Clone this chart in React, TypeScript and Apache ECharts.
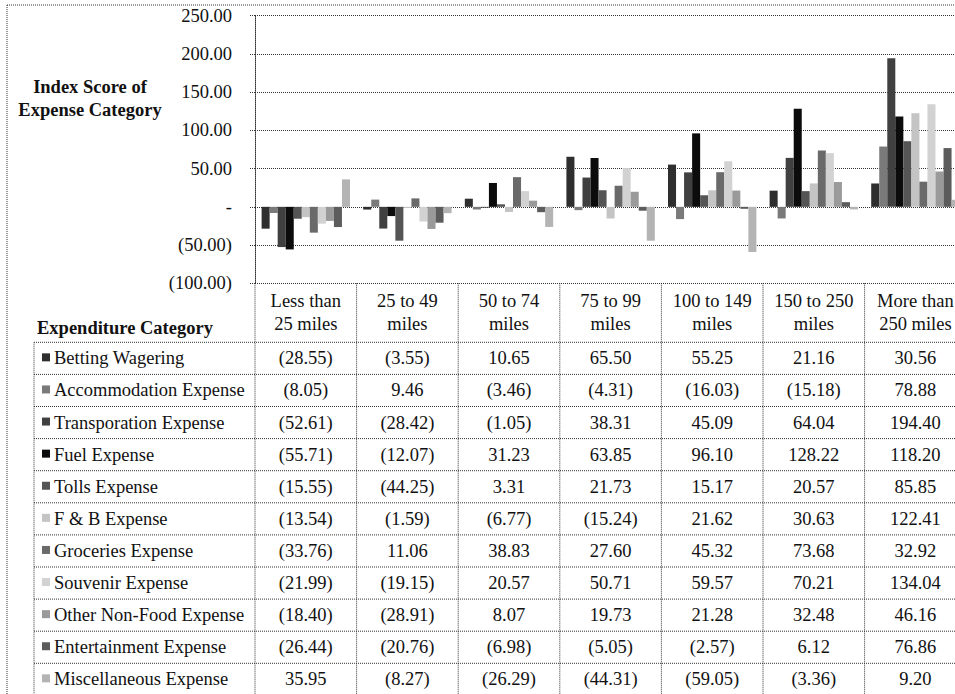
import React, { useEffect, useRef } from "react";
import * as echarts from "echarts";

// ---------- data ----------
const categories = [
  "Less than\n25 miles",
  "25 to 49\nmiles",
  "50 to 74\nmiles",
  "75 to 99\nmiles",
  "100 to 149\nmiles",
  "150 to 250\nmiles",
  "More than\n250 miles",
];

const seriesNames = [
  "Betting Wagering",
  "Accommodation Expense",
  "Transporation Expense",
  "Fuel Expense",
  "Tolls Expense",
  "F & B Expense",
  "Groceries Expense",
  "Souvenir Expense",
  "Other Non-Food Expense",
  "Entertainment Expense",
  "Miscellaneous Expense",
];

const bettingWagering = [-28.55, -3.55, 10.65, 65.5, 55.25, 21.16, 30.56];
const accommodation = [-8.05, 9.46, -3.46, -4.31, -16.03, -15.18, 78.88];
const transporation = [-52.61, -28.42, -1.05, 38.31, 45.09, 64.04, 194.4];
const fuel = [-55.71, -12.07, 31.23, 63.85, 96.1, 128.22, 118.2];
const tolls = [-15.55, -44.25, 3.31, 21.73, 15.17, 20.57, 85.85];
const fAndB = [-13.54, -1.59, -6.77, -15.24, 21.62, 30.63, 122.41];
const groceries = [-33.76, 11.06, 38.83, 27.6, 45.32, 73.68, 32.92];
const souvenir = [-21.99, -19.15, 20.57, 50.71, 59.57, 70.21, 134.04];
const otherNonFood = [-18.4, -28.91, 8.07, 19.73, 21.28, 32.48, 46.16];
const entertainment = [-26.44, -20.76, -6.98, -5.05, -2.57, 6.12, 76.86];
const miscellaneous = [35.95, -8.27, -26.29, -44.31, -59.05, -3.36, 9.2];

const seriesValues = [
  bettingWagering,
  accommodation,
  transporation,
  fuel,
  tolls,
  fAndB,
  groceries,
  souvenir,
  otherNonFood,
  entertainment,
  miscellaneous,
];

const yTicks = { min: -100, max: 250, interval: 50 };

// ---------- styling ----------
const seriesColors = [
  "#2e2e2e",
  "#7a7a7a",
  "#404040",
  "#0c0c0c",
  "#555555",
  "#c4c4c4",
  "#6a6a6a",
  "#d2d2d2",
  "#9a9a9a",
  "#5c5c5c",
  "#b4b4b4",
];

const FONT = "'Liberation Serif', 'Times New Roman', serif";
const FS = 18.5;
const TXT = "#111";
const DOT = "#333";

const CHART_W = 970;
const CHART_H = 694;
const GRID_LEFT = 255;
const GRID_RIGHT_EDGE = 966.2;
const GRID_TOP = 15.7;
const GRID_BOTTOM_Y = 283.3;
const TABLE_TOP = 342.3;
const ROW_H = 32.1;
const LABEL_COL_LEFT = 34;

const fmt = (v: number) =>
  v < 0 ? `(${Math.abs(v).toFixed(2)})` : v.toFixed(2);

export default function App() {
  const ref = useRef<HTMLDivElement>(null);

  useEffect(() => {
    if (!ref.current) return;
    const chart = echarts.init(ref.current, undefined, { renderer: "svg" });

    const catW = (GRID_RIGHT_EDGE - GRID_LEFT) / categories.length;
    const dotted = { stroke: DOT, lineWidth: 1, lineDash: [1, 1] };
    const graphics: any[] = [];

    // outer frame
    graphics.push({
      type: "line",
      shape: { x1: 7, y1: 5, x2: CHART_W, y2: 5 },
      style: dotted,
      silent: true,
    });
    graphics.push({
      type: "line",
      shape: { x1: 7, y1: 5, x2: 7, y2: CHART_H },
      style: dotted,
      silent: true,
    });

    // y axis title
    graphics.push({
      type: "text",
      x: 90,
      y: 98.5,
      style: {
        text: "Index Score of\nExpense Category",
        font: `bold ${FS}px ${FONT}`,
        fill: TXT,
        align: "center",
        verticalAlign: "middle",
        lineHeight: 23,
      },
    });

    // table header label
    graphics.push({
      type: "text",
      x: 37,
      y: 328,
      style: {
        text: "Expenditure Category",
        font: `bold ${FS}px ${FONT}`,
        fill: TXT,
        align: "left",
        verticalAlign: "middle",
      },
    });

    // table horizontal lines
    for (let i = 0; i <= seriesNames.length; i++) {
      const y = TABLE_TOP + i * ROW_H;
      graphics.push({
        type: "line",
        shape: { x1: LABEL_COL_LEFT, y1: y, x2: CHART_W, y2: y },
        style: dotted,
        silent: true,
      });
    }
    // label column left border
    graphics.push({
      type: "line",
      shape: { x1: LABEL_COL_LEFT, y1: TABLE_TOP, x2: LABEL_COL_LEFT, y2: CHART_H },
      style: dotted,
      silent: true,
    });
    // column boundaries
    for (let k = 0; k <= categories.length; k++) {
      const x = GRID_LEFT + k * catW;
      graphics.push({
        type: "line",
        shape: { x1: x, y1: GRID_BOTTOM_Y, x2: x, y2: CHART_H },
        style: dotted,
        silent: true,
      });
    }

    // rows: swatch + label + values
    seriesNames.forEach((name, r) => {
      const cy = TABLE_TOP + r * ROW_H + ROW_H / 2;
      graphics.push({
        type: "rect",
        shape: { x: 42, y: cy - 5, width: 8, height: 8 },
        style: { fill: seriesColors[r] },
        silent: true,
      });
      graphics.push({
        type: "text",
        x: 54,
        y: cy,
        style: {
          text: name,
          font: `${FS}px ${FONT}`,
          fill: TXT,
          align: "left",
          verticalAlign: "middle",
        },
      });
      seriesValues[r].forEach((v, c) => {
        graphics.push({
          type: "text",
          x: GRID_LEFT + (c + 0.5) * catW,
          y: cy,
          style: {
            text: fmt(v),
            font: `${FS}px ${FONT}`,
            fill: TXT,
            align: "center",
            verticalAlign: "middle",
          },
        });
      });
    });

    chart.setOption({
      animation: false,
      backgroundColor: "#ffffff",
      grid: {
        left: GRID_LEFT,
        right: CHART_W - GRID_RIGHT_EDGE,
        top: GRID_TOP,
        height: GRID_BOTTOM_Y - GRID_TOP,
        containLabel: false,
      },
      xAxis: {
        type: "category",
        data: categories,
        axisLine: { show: false, onZero: false },
        axisTick: { show: false },
        splitLine: { show: false },
        axisLabel: {
          interval: 0,
          margin: 6,
          fontFamily: FONT,
          fontSize: FS,
          lineHeight: 23,
          color: TXT,
        },
      },
      yAxis: {
        type: "value",
        min: yTicks.min,
        max: yTicks.max,
        interval: yTicks.interval,
        axisLine: {
          show: true,
          lineStyle: { color: DOT, width: 1, type: [1, 1] },
        },
        axisTick: {
          show: true,
          length: 5,
          lineStyle: { color: DOT, width: 1, type: [1, 1] },
        },
        splitLine: {
          show: true,
          lineStyle: { color: DOT, width: 1, type: [1, 1] },
        },
        axisLabel: {
          margin: 23,
          fontFamily: FONT,
          fontSize: FS,
          color: TXT,
          formatter: (v: number) => (v === 0 ? "-" : fmt(v)),
        },
      },
      series: seriesNames.map((name, i) => ({
        name,
        type: "bar",
        data: seriesValues[i],
        barGap: "0%",
        barCategoryGap: "13%",
        itemStyle: { color: seriesColors[i] },
      })),
      graphic: graphics,
    });

    return () => chart.dispose();
  }, []);

  return (
    <div
      style={{
        position: "absolute",
        left: 0,
        top: 0,
        width: 955,
        height: 694,
        overflow: "hidden",
        background: "#fff",
      }}
    >
      <div ref={ref} style={{ width: CHART_W, height: CHART_H }} />
    </div>
  );
}
